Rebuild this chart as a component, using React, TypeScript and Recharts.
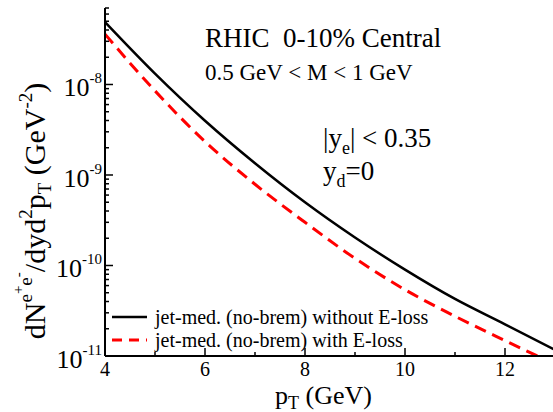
import { Line, LineChart, XAxis, YAxis } from "recharts";

// pT grid (GeV)
const pT = [4, 5, 6, 7, 8, 9, 10, 11, 12, 13];
// jet-med. (no-brem) without E-loss
const noEloss = [4.9e-8, 1.32e-8, 3.98e-9, 1.35e-9, 5.0e-10, 2.04e-10, 9.0e-11, 4.27e-11, 2.24e-11, 1.17e-11];
// jet-med. (no-brem) with E-loss
const withEloss = [3.6e-8, 8.5e-9, 2.34e-9, 7.9e-10, 3.0e-10, 1.2e-10, 5.4e-11, 2.75e-11, 1.48e-11, 8.1e-12];

const xTicks = [4, 5, 6, 7, 8, 9, 10, 11, 12, 13];
const xLabelTicks = [4, 6, 8, 10, 12];
const yDecades = [1e-11, 1e-10, 1e-9, 1e-8];
const yDecadeLabels = ["-11", "-10", "-9", "-8"];
const yMax = 7e-8;

const data = pT.map((pt, i) => ({ pt, noLoss: noEloss[i], loss: withEloss[i] }));
const yTicks = yDecades
  .flatMap((d) => [1, 2, 3, 4, 5, 6, 7, 8, 9].map((k) => k * d))
  .filter((v) => v <= yMax * 1.0001);

const FONT =
  '"Liberation Serif", "Times New Roman", Times, "Nimbus Roman", "Noto Serif", FreeSerif, "DejaVu Serif", serif';

const decadeIndex = (v: number) => yDecades.findIndex((d) => Math.abs(v / d - 1) < 1e-6);

function LeftTick({ x, y, payload }: any) {
  const idx = decadeIndex(payload.value);
  const major = idx >= 0;
  return (
    <g>
      <line x1={x} x2={x + (major ? 8 : 4)} y1={y} y2={y} stroke="#000" strokeWidth={1.5} />
      {major && (
        <text x={x - 3} y={y + 12} textAnchor="end" fontSize={26} style={{ fontFamily: FONT }} fill="#000">
          <tspan>10</tspan>
          <tspan dy={-13} fontSize={15}>{yDecadeLabels[idx]}</tspan>
        </text>
      )}
    </g>
  );
}

function RightTick({ x, y, payload }: any) {
  const major = decadeIndex(payload.value) >= 0;
  return <line x1={x} x2={x - (major ? 8 : 4)} y1={y} y2={y} stroke="#000" strokeWidth={1.5} />;
}

function BottomTick({ x, y, payload }: any) {
  const v = payload.value;
  const major = xLabelTicks.includes(v);
  return (
    <g>
      <line x1={x} x2={x} y1={y} y2={y - (major ? 8 : 4)} stroke="#000" strokeWidth={1.5} />
      {major && (
        <text x={x} y={y + 20} textAnchor="middle" fontSize={20} style={{ fontFamily: FONT }} fill="#000">
          {v}
        </text>
      )}
    </g>
  );
}

function TopTick({ x, y, payload }: any) {
  const major = xLabelTicks.includes(payload.value);
  return <line x1={x} x2={x} y1={y} y2={y + (major ? 8 : 4)} stroke="#000" strokeWidth={1.5} />;
}

export default function App() {
  const axisLine = { stroke: "#000", strokeWidth: 2 };
  return (
    <div
      style={{
        position: "absolute",
        left: 0,
        top: 0,
        width: 553,
        height: 412,
        overflow: "hidden",
        background: "#fff",
        fontFamily: FONT,
      }}
    >
      <LineChart width={560} height={412} data={data} margin={{ top: 8, right: 5, left: 0, bottom: 0 }}>
        <XAxis
          dataKey="pt"
          type="number"
          domain={[4, 13]}
          ticks={xTicks}
          interval={0}
          height={56}
          tickSize={0}
          tickMargin={0}
          tickLine={false}
          axisLine={axisLine}
          tick={<BottomTick />}
        />
        <XAxis
          xAxisId="top"
          orientation="top"
          dataKey="pt"
          type="number"
          domain={[4, 13]}
          ticks={xTicks}
          interval={0}
          height={0}
          tickSize={0}
          tickMargin={0}
          tickLine={false}
          axisLine={axisLine}
          tick={<TopTick />}
        />
        <YAxis
          type="number"
          scale="log"
          domain={[1e-11, yMax]}
          allowDataOverflow
          ticks={yTicks}
          interval={0}
          width={105}
          tickSize={0}
          tickMargin={0}
          tickLine={false}
          axisLine={axisLine}
          tick={<LeftTick />}
        />
        <YAxis
          yAxisId="right"
          orientation="right"
          type="number"
          scale="log"
          domain={[1e-11, yMax]}
          allowDataOverflow
          ticks={yTicks}
          interval={0}
          width={0}
          tickSize={0}
          tickMargin={0}
          tickLine={false}
          axisLine={axisLine}
          tick={<RightTick />}
        />
        <Line
          dataKey="noLoss"
          type="monotone"
          stroke="#000"
          strokeWidth={2.5}
          dot={false}
          isAnimationActive={false}
        />
        <Line
          dataKey="loss"
          type="monotone"
          stroke="#ff0000"
          strokeWidth={3}
          strokeDasharray="12 7"
          dot={false}
          isAnimationActive={false}
        />
      </LineChart>
      <svg
        width={553}
        height={412}
        style={{ position: "absolute", left: 0, top: 0, pointerEvents: "none", fontFamily: FONT }}
        fill="#000"
      >
        <text x={205} y={47} fontSize={27} style={{ whiteSpace: "pre" }}>
          RHIC  0-10% Central
        </text>
        <text x={205} y={80} fontSize={23}>
          0.5 GeV &lt; M &lt; 1 GeV
        </text>
        <text x={323} y={147} fontSize={27}>
          |y<tspan dy={7} fontSize={18}>e</tspan>
          <tspan dy={-7}>| &lt; 0.35</tspan>
        </text>
        <text x={323} y={180} fontSize={27}>
          y<tspan dy={7} fontSize={18}>d</tspan>
          <tspan dy={-7}>=0</tspan>
        </text>

        <line x1={112} x2={147} y1={317} y2={317} stroke="#000" strokeWidth={2.5} />
        <text x={155} y={324} fontSize={20}>jet-med. (no-brem) without E-loss</text>
        <line x1={112} x2={147} y1={340} y2={340} stroke="#ff0000" strokeWidth={3} strokeDasharray="10 7" />
        <text x={155} y={347} fontSize={20}>jet-med. (no-brem) with E-loss</text>

        <text x={275} y={404} fontSize={26}>
          p<tspan dy={5} fontSize={18}>T</tspan>
          <tspan dy={-5}> (GeV)</tspan>
        </text>

        <text transform="translate(45,211) rotate(-90)" textAnchor="middle" fontSize={30}>
          dN<tspan dy={-13} fontSize={19}>e</tspan>
          <tspan dy={-9} fontSize={15}>+</tspan>
          <tspan dy={9} fontSize={19}>e</tspan>
          <tspan dy={-9} fontSize={15}>-</tspan>
          <tspan dy={22}>/dyd</tspan>
          <tspan dy={-13} fontSize={19}>2</tspan>
          <tspan dy={13}>p</tspan>
          <tspan dy={6} fontSize={19}>T</tspan>
          <tspan dy={-6}> (GeV</tspan>
          <tspan dy={-13} fontSize={19}>-2</tspan>
          <tspan dy={13}>)</tspan>
        </text>
      </svg>
    </div>
  );
}
